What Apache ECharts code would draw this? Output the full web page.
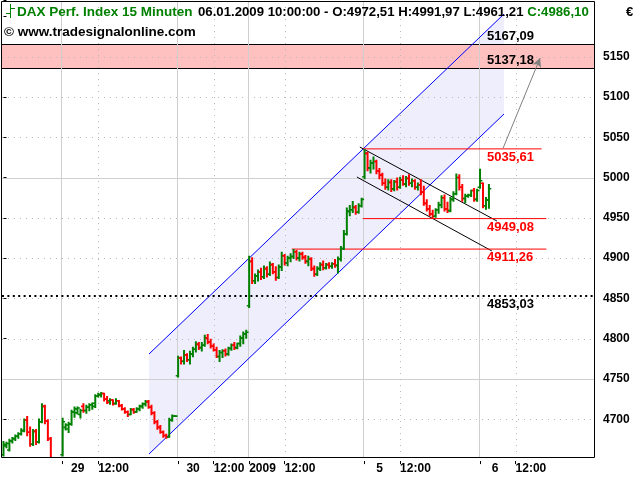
<!DOCTYPE html>
<html>
<head>
<meta charset="utf-8">
<script src="https://cdn.jsdelivr.net/npm/echarts@6.0.0/dist/echarts.min.js"></script>
<style>
html,body{margin:0;padding:0;background:#fff;}
#chart{width:640px;height:480px;}
</style>
</head>
<body>
<div id="chart"></div>
<script>
// ---------- OHLC data, one array per trading day: [open, high, low, close] ----------
const dec23 = [
  [4656,4673,4654,4669],[4667,4672,4664,4670],[4662,4676,4660,4673],[4673,4678,4670,4676],
  [4676,4681,4673,4679],[4679,4684,4676,4682],[4682,4689,4680,4686],[4686,4701,4684,4699],
  [4699,4704,4679,4684],[4684,4691,4666,4669],[4669,4688,4667,4685],[4685,4688,4668,4672],
  [4672,4701,4670,4697],[4697,4720,4695,4716],[4716,4718,4694,4698],[4698,4700,4673,4676],
  [4676,4678,4648,4652],[4652,4653,4640,4644],[4644,4650,4638,4646],[4646,4650,4641,4645]
];
const dec29 = [
  [4656,4702,4654,4697],[4690,4695,4686,4693],[4688,4697,4683,4694],[4694,4712,4692,4709],
  [4709,4716,4702,4713],[4708,4716,4706,4714],[4706,4713,4701,4711],[4716,4720,4708,4711],
  [4711,4718,4707,4715],[4715,4720,4710,4718],[4718,4721,4712,4720],[4716,4731,4714,4729],
  [4729,4733,4727,4731],[4730,4734,4727,4732],[4732,4733,4722,4725],[4725,4729,4719,4721],
  [4723,4726,4718,4724],[4724,4725,4717,4719],[4720,4726,4718,4723],[4723,4724,4715,4717],
  [4717,4719,4711,4713],[4713,4715,4707,4709],[4709,4711,4703,4706],[4706,4714,4705,4712],
  [4712,4714,4707,4709],[4709,4715,4708,4713],[4713,4718,4710,4716],[4716,4721,4713,4719],
  [4719,4724,4716,4722],[4722,4724,4713,4715],[4715,4718,4705,4708],[4708,4710,4694,4697],
  [4697,4699,4687,4690],[4690,4693,4682,4684],[4684,4686,4677,4680],[4680,4682,4676,4678],
  [4678,4702,4677,4699],[4699,4706,4697,4704],[4704,4705,4703,4704]
];
const dec30 = [
  [4754,4779,4752,4776],[4776,4778,4768,4772],[4772,4786,4768,4780],[4780,4782,4771,4774],
  [4774,4785,4768,4781],[4781,4790,4777,4787],[4787,4797,4783,4793],[4793,4796,4786,4789],
  [4789,4796,4784,4792],[4792,4805,4790,4801],[4801,4806,4793,4796],[4796,4800,4788,4791],
  [4791,4794,4784,4786],[4786,4790,4776,4778],[4778,4786,4771,4783],[4783,4787,4776,4785],
  [4785,4788,4778,4781],[4781,4790,4779,4788],[4788,4794,4785,4792],[4792,4796,4786,4789],
  [4789,4795,4787,4794],[4794,4804,4790,4801],[4801,4809,4793,4806],[4806,4811,4800,4808]
];
const jan02 = [
  [4841,4903,4838,4896],[4896,4901,4868,4872],[4872,4881,4868,4878],[4878,4886,4871,4883],
  [4883,4888,4873,4877],[4877,4891,4874,4887],[4887,4890,4876,4880],[4880,4896,4878,4892],
  [4892,4894,4880,4883],[4883,4890,4872,4876],[4876,4892,4874,4889],[4889,4908,4884,4903],
  [4903,4905,4891,4894],[4894,4903,4890,4900],[4900,4906,4895,4902],[4902,4911.26,4899,4908],
  [4908,4910,4897,4900],[4900,4908,4896,4905],[4905,4908,4898,4901],[4901,4904,4893,4896],
  [4896,4903,4890,4899],[4899,4901,4884,4887],[4887,4891,4877,4880],[4880,4890,4878,4887],
  [4887,4895,4884,4892],[4892,4897,4885,4888],[4888,4894,4886,4892],[4892,4895,4887,4890],
  [4890,4895,4887,4893],[4893,4899,4888,4891],[4891,4902,4881,4899],[4899,4915,4896,4912],
  [4912,4935,4910,4930],[4930,4963,4928,4958],[4958,4966,4952,4960],[4960,4971,4956,4963],
  [4963,4966,4954,4957],[4957,4968,4955,4965],[4965,4975,4963,4973]
];
const jan05 = [
  [5001,5035.61,4998,5030],[5030,5032,5008,5012],[5012,5022,5005,5018],[5018,5026,5010,5020],
  [5020,5022,5004,5008],[5008,5012,4998,5003],[5003,5006,4990,4993],[4993,4999,4985,4988],
  [4988,4998,4984,4994],[4994,4998,4982,4986],[4986,4997,4983,4995],[4995,5000,4984,4988],
  [4988,5001,4986,4997],[4997,5003,4990,4992],[4992,5002,4988,4999],[4999,5004,4990,4993],
  [4993,4999,4988,4996],[4996,4998,4985,4988],[4988,4994,4984,4991],[4991,4998,4978,4982],
  [4982,4990,4965,4968],[4968,4973,4958,4961],[4961,4966,4952,4955],[4955,4960,4949.08,4952],
  [4952,4962,4950,4960],[4960,4970,4955,4966],[4966,4978,4962,4975],[4975,4979,4958,4961],
  [4961,4970,4956,4959],[4959,4976,4957,4973],[4973,4983,4970,4980],[4980,5005,4978,5000],
  [5000,5004,4984,4988],[4988,4992,4970,4974],[4974,4980,4968,4977],[4977,4980,4975,4978],
  [4978,4985,4976,4984],[4984,4987,4970,4973],[4973,4986,4970,4984]
];
const jan06 = [
  [4988,5011,4986,4996],[4993,4994,4962,4965],[4965,4976,4960,4972],[4972.51,4991.97,4961.21,4986.10]
];
const dayBars   = [dec23, dec29, dec30, jan02, jan05, jan06];
const daySlots  = [20, 39, 24, 39, 39, 39];
const dayLabels = ['', '29', '30', '2009', '5', '6'];
const noonLabel = '12:00';
const noonOffset = 12;

// ---------- axis / annotation levels ----------
const yTickLabels   = [4700, 4750, 4800, 4850, 4900, 4950, 5000, 5050, 5100, 5150];
const solidYLevels  = [4750, 5000];
const supportLevel  = 4853.03;
const redLevels     = [5035.61, 4949.08, 4911.26];
const redStart      = [121.5, 121.5, 97.4];
const redEnd        = [181.8, 183.4, 183.4];
const targetBand    = [5137.18, 5167.09];
const channelX      = [49.16, 169.1];
const channelLower  = [4656.9, 5078.9];
const channelUpper  = [4781, 5203];
const downUpperLine = [[120.4, 5037.9], [166.7, 4946.1]];
const downLowerLine = [[119.4, 5000.7], [165.0, 4908.9]];
const arrowLine     = [[168.8, 5036.7], [181.3, 5148.4]];
const labelX        = 163.35;

// ---------- build ----------
const bars = [], cats = [], dayStarts = [], noons = [];
let start = 0;
dayBars.forEach((d, k) => {
  d.forEach((b, j) => bars.push([start + j, b[0], b[1], b[2], b[3]]));
  for (let j = 0; j < daySlots[k]; j++) cats.push('');
  if (k > 0) {
    cats[start] = dayLabels[k]; dayStarts.push(start);
    cats[start + noonOffset] = noonLabel; noons.push(start + noonOffset);
  }
  start += daySlots[k];
});
const N = cats.length;
const fmt = v => v.toFixed(2).replace('.', ',');
const last = bars[bars.length - 1];
const FONT = '"Liberation Sans", Arial, sans-serif';
const HFONT = 'bold 13.5px ' + FONT;
const GREEN = '#008000', RED = '#ff0000';

const crisp = v => Math.round(v) + 0.5;

function hLineSeries(levels, style) {
  return {
    type: 'custom', xAxisIndex: 1, silent: true, animation: false, clip: false,
    data: levels.map(v => [0, v]),
    renderItem: (p, api) => {
      const cs = p.coordSys;
      const y = crisp(api.coord([0, api.value(1)])[1]);
      return { type: 'line', shape: { x1: cs.x, y1: y, x2: cs.x + cs.width, y2: y }, style: style };
    }
  };
}
function vLineSeries(idxs, style) {
  return {
    type: 'custom', xAxisIndex: 1, silent: true, animation: false, clip: false,
    data: idxs.map(v => [v, 4700]),
    renderItem: (p, api) => {
      const x = crisp(api.coord([api.value(0), 4700])[0]);
      return { type: 'line', shape: { x1: x, y1: 1, x2: x, y2: 457 }, style: style };
    }
  };
}
function segSeries(pts, color, width, dash) {
  return {
    type: 'line', xAxisIndex: 1, silent: true, animation: false, symbol: 'none',
    data: pts, lineStyle: { color: color, width: width, type: dash || 'solid' }
  };
}
function labelSeries(levels, color, dy) {
  return {
    type: 'custom', xAxisIndex: 1, silent: true, animation: false, clip: false, z: 20,
    data: levels.map(v => [labelX, v]),
    renderItem: (p, api) => {
      const pt = api.coord([api.value(0), api.value(1)]);
      return { type: 'text', x: pt[0], y: pt[1] + dy,
        style: { text: fmt(api.value(1)), fill: color, font: 'bold 13px ' + FONT,
          align: 'left', verticalAlign: 'middle', textAlign: 'left', textVerticalAlign: 'middle' } };
    }
  };
}

const dotStyle = { stroke: '#b8b8b8', lineWidth: 1, lineDash: [1, 5] };
const solidStyle = { stroke: '#cfcfcf', lineWidth: 1 };

const series = [
  // channel fill
  {
    type: 'custom', xAxisIndex: 1, silent: true, animation: false, z: 1,
    data: [[channelX[0], channelLower[0]]],
    renderItem: (p, api) => {
      const a = api.coord([channelX[0], channelLower[0]]);
      const b = api.coord([channelX[1], channelLower[1]]);
      const c = api.coord([channelX[1], channelUpper[1]]);
      const d = api.coord([channelX[0], channelUpper[0]]);
      return { type: 'polygon', shape: { points: [a, b, c, d] }, style: { fill: '#eeeefd' } };
    }
  },
  // target band
  {
    type: 'custom', xAxisIndex: 1, silent: true, animation: false, z: 1,
    data: [[0, targetBand[0]]],
    renderItem: (p, api) => {
      const cs = p.coordSys;
      const y1 = crisp(api.coord([0, targetBand[1]])[1]) + 1;
      const y2 = crisp(api.coord([0, targetBand[0]])[1]) + 1;
      return { type: 'group', children: [
        { type: 'rect', shape: { x: cs.x, y: y1, width: cs.width, height: y2 - y1 }, style: { fill: '#ffc0c0' } },
        { type: 'line', shape: { x1: cs.x, y1: y1, x2: cs.x + cs.width, y2: y1 }, style: { stroke: '#000', lineWidth: 1 } },
        { type: 'line', shape: { x1: cs.x, y1: y2, x2: cs.x + cs.width, y2: y2 }, style: { stroke: '#000', lineWidth: 1 } }
      ]};
    }
  },
  Object.assign(hLineSeries(yTickLabels.filter(v => solidYLevels.indexOf(v) < 0), dotStyle), { z: 2 }),
  Object.assign(hLineSeries(solidYLevels, solidStyle), { z: 2 }),
  Object.assign(vLineSeries(dayStarts.map(i => i - 0.5), solidStyle), { z: 2 }),
  Object.assign(vLineSeries(noons, dotStyle), { z: 2 }),
  // channel lines
  Object.assign(segSeries([[channelX[0], channelLower[0]], [channelX[1], channelLower[1]]], '#0000ff', 1), { z: 3 }),
  Object.assign(segSeries([[channelX[0], channelUpper[0]], [channelX[1], channelUpper[1]]], '#0000ff', 1), { z: 3 }),
  Object.assign(segSeries(downUpperLine, '#000', 1), { z: 3 }),
  Object.assign(segSeries(downLowerLine, '#000', 1), { z: 3 }),
  Object.assign(segSeries([[-0.5, supportLevel], [N - 0.5, supportLevel]], '#000', 2, [2, 3.4]), { z: 3 }),
  // red levels
  ...redLevels.map((v, i) => Object.assign(segSeries([[redStart[i], v], [redEnd[i], v]], RED, 1), { z: 3 })),
  // arrow
  {
    type: 'line', xAxisIndex: 1, silent: true, animation: false, symbol: 'none', z: 3,
    data: [],
    markLine: {
      silent: true, animation: false, symbol: ['none', 'arrow'], symbolSize: [7, 9],
      label: { show: false }, lineStyle: { color: '#808080', width: 1, type: 'solid' },
      data: [[{ coord: arrowLine[0] }, { coord: arrowLine[1] }]]
    }
  },
  // OHLC bars
  {
    type: 'custom', xAxisIndex: 1, animation: false, z: 10, clip: true,
    data: bars,
    renderItem: (p, api) => {
      const x = api.value(0), o = api.value(1), h = api.value(2), l = api.value(3), c = api.value(4);
      const ph = api.coord([x, h]), pl = api.coord([x, l]), po = api.coord([x, o]), pc = api.coord([x, c]);
      const col = c >= o ? GREEN : RED;
      const xc = ph[0];
      const st = { stroke: col, lineWidth: 2 };
      const ts = { stroke: col, lineWidth: 1.6 };
      return { type: 'group', children: [
        { type: 'line', shape: { x1: xc, y1: ph[1], x2: xc, y2: pl[1] }, style: st },
        { type: 'line', shape: { x1: xc - 2.4, y1: po[1], x2: xc, y2: po[1] }, style: ts },
        { type: 'line', shape: { x1: xc, y1: pc[1], x2: xc + 2.4, y2: pc[1] }, style: ts }
      ]};
    }
  },
  labelSeries(redLevels, RED, 8.5),
  labelSeries([supportLevel], '#000', 8.5),
  labelSeries(targetBand, '#000', -7)
];

const headerInfo = '06.01.2009 10:00:00 - O:' + fmt(last[1]) + ' H:' + fmt(last[2]) + ' L:' + fmt(last[3]);
const headerClose = 'C:' + fmt(last[4]);

const chart = echarts.init(document.getElementById('chart'), null, { renderer: 'canvas' });
chart.setOption({
  animation: false,
  backgroundColor: '#fff',
  grid: { left: 2, right: 46, top: 0.3, bottom: 20.4, containLabel: false },
  xAxis: [
    {
      type: 'category', data: cats, boundaryGap: true, position: 'bottom', offset: 0.5,
      axisLine: { show: false },
      axisTick: { show: true, alignWithLabel: true, length: 4, lineStyle: { color: '#000' },
        interval: (i, v) => v !== '' },
      axisLabel: {
        interval: 0, align: 'left', margin: 3, color: '#000', fontFamily: FONT, fontWeight: 'bold', fontSize: 12,
        formatter: v => (v === '' ? '' : (v === noonLabel || v.length === 4 ? v : '{d|' + v + '}')),
        rich: { d: { width: 30, align: 'center', fontFamily: FONT, fontWeight: 'bold', fontSize: 12, color: '#000' } }
      },
      splitLine: { show: false }
    },
    { type: 'value', min: -0.5, max: N - 0.5, show: false }
  ],
  yAxis: {
    type: 'value', position: 'right', min: 4650, max: 5220, interval: 50, offset: 5,
    axisLine: { show: false },
    axisTick: { show: true, length: 3, lineStyle: { color: '#000' } },
    axisLabel: { margin: 4, color: '#000', fontFamily: FONT, fontWeight: 'bold', fontSize: 12,
      formatter: v => (yTickLabels.indexOf(v) >= 0 ? String(v) : '') },
    splitLine: { show: false }
  },
  series: series,
  graphic: [
    { type: 'rect', z: 100, silent: true, shape: { x: 0, y: 457.5, width: 600, height: 3.5 }, style: { fill: '#fff' } },
    { type: 'rect', z: 101, silent: true, shape: { x: 1.5, y: 1.5, width: 593, height: 456 }, style: { fill: 'none', stroke: '#000', lineWidth: 1 } },
    { type: 'polyline', z: 101, silent: true, shape: { points: [[10.5, 4], [10.5, 18]] }, style: { stroke: GREEN, lineWidth: 1 } },
    { type: 'polyline', z: 101, silent: true, shape: { points: [[6, 13.5], [10.5, 13.5]] }, style: { stroke: GREEN, lineWidth: 1 } },
    { type: 'polyline', z: 101, silent: true, shape: { points: [[10.5, 8.5], [15, 8.5]] }, style: { stroke: GREEN, lineWidth: 1 } },
    { type: 'text', z: 101, silent: true, style: { text: 'DAX Perf. Index 15 Minuten', x: 17, y: 12, fill: GREEN,
      font: HFONT, align: 'left', verticalAlign: 'middle', textAlign: 'left', textVerticalAlign: 'middle' } },
    { type: 'text', z: 101, silent: true, style: {
      text: '{k|' + headerInfo + '} {g|' + headerClose + '}',
      x: 198, y: 12, font: 'bold 13.2px ' + FONT, align: 'left', verticalAlign: 'middle', textAlign: 'left', textVerticalAlign: 'middle',
      rich: {
        k: { fill: '#000', color: '#000', font: 'bold 13.2px ' + FONT, fontFamily: FONT, fontWeight: 'bold', fontSize: 13.2 },
        g: { fill: GREEN, color: GREEN, font: 'bold 13.2px ' + FONT, fontFamily: FONT, fontWeight: 'bold', fontSize: 13.2 }
      } } },
    { type: 'text', z: 101, silent: true, style: { text: '\u00a9 www.tradesignalonline.com', x: 4, y: 32, fill: '#000',
      font: HFONT, align: 'left', verticalAlign: 'middle', textAlign: 'left', textVerticalAlign: 'middle' } },
    { type: 'text', z: 101, silent: true, style: { text: '\u20ac', x: 626, y: 12, fill: '#000',
      font: 'bold 13px ' + FONT, align: 'left', verticalAlign: 'middle', textAlign: 'left', textVerticalAlign: 'middle' } }
  ]
});
</script>
</body>
</html>
